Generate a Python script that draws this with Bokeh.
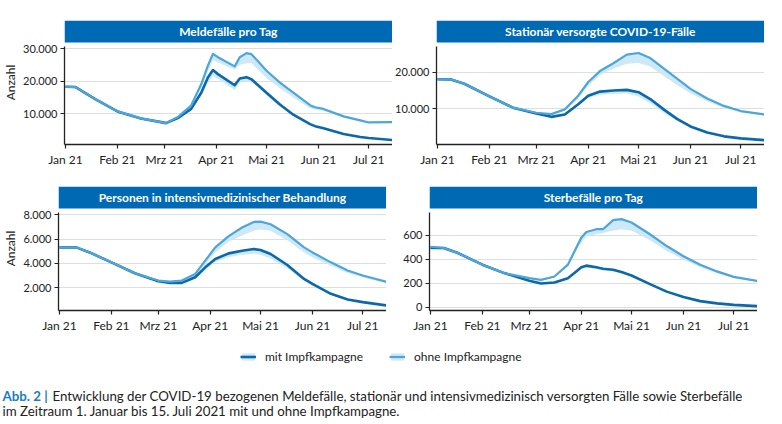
import pandas as pd
from bokeh.plotting import figure
from bokeh.models import Range1d, FixedTicker, BoxAnnotation, Label, Legend, LegendItem
from bokeh.layouts import column, row
from bokeh.embed import file_html
from bokeh.resources import INLINE

# ---------------- data ----------------
START = "2021-01-01"
END = "2021-07-15"
month_ticks = ["2021-01-01", "2021-02-01", "2021-03-01", "2021-04-01", "2021-05-01", "2021-06-01", "2021-07-01"]
month_labels = ["Jan 21", "Feb 21", "Mrz 21", "Apr 21", "Mai 21", "Jun 21", "Jul 21"]

titles = ["Meldefälle pro Tag", "Stationär versorgte COVID-19-Fälle",
          "Personen in intensivmedizinischer Behandlung", "Sterbefälle pro Tag"]
series_names = ["mit Impfkampagne", "ohne Impfkampagne"]

# Panel 1: Meldefälle pro Tag
dates1 = ["2021-01-01", "2021-01-07", "2021-01-19", "2021-02-01", "2021-02-15", "2021-02-27", "2021-03-02",
          "2021-03-09", "2021-03-17", "2021-03-23", "2021-03-27", "2021-03-30", "2021-04-02", "2021-04-12",
          "2021-04-15", "2021-04-19", "2021-04-22", "2021-05-01", "2021-05-09", "2021-05-17", "2021-05-27",
          "2021-05-30", "2021-06-04", "2021-06-16", "2021-06-26", "2021-07-01", "2021-07-15"]
ohne1 = [18300, 18200, 14400, 10700, 8540, 7400, 7080, 8960, 12500, 19060, 24800, 28440, 27400, 24580,
         27400, 28650, 28330, 23230, 19580, 16460, 12600, 11980, 11460, 9170, 7920, 7290, 7400]
ohne1_lo = [18300, 18200, 14400, 10700, 8540, 7400, 7080, 8900, 12200, 18000, 23000, 26500, 25800, 23600,
            25000, 25500, 25500, 21000, 17800, 15000, 11700, 11300, 10900, 8800, 7600, 7100, 7200]
mit1 = [18300, 18200, 14400, 10700, 8540, 7400, 7080, 8650, 11460, 16460, 21150, 23440, 22190, 18750,
        20830, 21250, 20630, 16460, 12810, 9690, 6770, 6150, 5520, 3750, 2810, 2500, 1880]
mit1_lo = [18300, 18200, 14400, 10700, 8540, 7400, 7080, 8600, 11200, 15500, 19500, 21500, 20800, 17300,
           19600, 20100, 19800, 15700, 12200, 9200, 6500, 5900, 5300, 3600, 2700, 2400, 1800]
yticks1 = [10000, 20000, 30000]
ylabels1 = ["10.000", "20.000", "30.000"]

# Panel 2: Stationär versorgte COVID-19-Fälle
dates2 = ["2021-01-01", "2021-01-09", "2021-01-17", "2021-02-01", "2021-02-15", "2021-03-01", "2021-03-10",
          "2021-03-18", "2021-03-26", "2021-04-01", "2021-04-08", "2021-04-16", "2021-04-24", "2021-05-01",
          "2021-05-08", "2021-05-16", "2021-05-24", "2021-06-01", "2021-06-11", "2021-06-21", "2021-07-01",
          "2021-07-15"]
ohne2 = [18040, 18000, 16820, 13360, 10280, 8880, 8500, 9810, 13550, 17290, 20280, 22430, 24770, 25230,
         23830, 21030, 18220, 15420, 12800, 10750, 9350, 8410]
ohne2_lo = [18040, 18000, 16820, 13360, 10280, 8880, 8400, 9500, 12800, 16300, 19200, 21000, 22300, 22500,
            21500, 19000, 16500, 14200, 12000, 10200, 9000, 8100]
mit2 = [18040, 18000, 16820, 13360, 10280, 8690, 7760, 8410, 11210, 13550, 14670, 14950, 15140, 14490,
        12620, 9810, 7200, 5140, 3460, 2430, 1870, 1400]
mit2_lo = [18040, 18000, 16820, 13360, 10280, 8690, 7760, 8350, 10900, 13000, 13800, 14000, 14200, 13300,
           11500, 8900, 6600, 4800, 3300, 2350, 1800, 1350]
yticks2 = [10000, 20000]
ylabels2 = ["10.000", "20.000"]

# Panel 3: Personen in intensivmedizinischer Behandlung
dates3 = ["2021-01-01", "2021-01-11", "2021-01-19", "2021-02-01", "2021-02-15", "2021-03-01", "2021-03-08",
          "2021-03-15", "2021-03-23", "2021-03-29", "2021-04-04", "2021-04-12", "2021-04-20", "2021-04-27",
          "2021-05-01", "2021-05-07", "2021-05-17", "2021-05-27", "2021-06-01", "2021-06-12", "2021-06-22",
          "2021-07-01", "2021-07-15"]
ohne3 = [5320, 5320, 4900, 4080, 3180, 2575, 2490, 2575, 3120, 4220, 5320, 6250, 6960, 7420, 7450, 7230,
         6410, 5320, 4900, 4080, 3400, 2990, 2490]
ohne3_lo = [5320, 5320, 4900, 4080, 3180, 2575, 2450, 2500, 2950, 3900, 4900, 5800, 6300, 6700, 6800, 6700,
            5900, 4900, 4500, 3800, 3200, 2850, 2350]
mit3 = [5320, 5320, 4900, 4080, 3180, 2520, 2380, 2380, 2850, 3670, 4360, 4820, 5040, 5180, 5100, 4770,
        3860, 2710, 2300, 1480, 1010, 790, 520]
mit3_lo = [5320, 5320, 4900, 4080, 3180, 2520, 2380, 2350, 2750, 3450, 4100, 4500, 4700, 4800, 4700, 4400,
           3600, 2550, 2150, 1400, 950, 750, 500]
yticks3 = [2000, 4000, 6000, 8000]
ylabels3 = ["2.000", "4.000", "6.000", "8.000"]

# Panel 4: Sterbefälle pro Tag
dates4 = ["2021-01-01", "2021-01-09", "2021-01-17", "2021-02-01", "2021-02-14", "2021-03-01", "2021-03-08",
          "2021-03-16", "2021-03-24", "2021-03-29", "2021-04-01", "2021-04-04", "2021-04-10", "2021-04-14",
          "2021-04-20", "2021-04-25", "2021-05-01", "2021-05-12", "2021-05-22", "2021-06-01", "2021-06-11",
          "2021-06-21", "2021-07-01", "2021-07-15"]
ohne4 = [505, 495, 455, 356, 286, 244, 230, 258, 356, 497, 580, 628, 651, 651, 727, 735, 707, 609, 511, 426,
         356, 300, 255, 222]
ohne4_lo = [480, 480, 445, 350, 280, 240, 225, 250, 340, 470, 540, 590, 610, 620, 640, 650, 640, 560, 470,
            400, 335, 285, 245, 212]
mit4 = [497, 495, 455, 356, 286, 222, 199, 208, 244, 300, 334, 348, 334, 322, 314, 295, 266, 194, 132, 87,
        53, 34, 22, 11]
mit4_lo = [480, 480, 445, 350, 280, 222, 199, 205, 238, 290, 320, 330, 322, 310, 300, 285, 258, 188, 128, 85,
           52, 33, 21, 10]
yticks4 = [0, 200, 400, 600]
ylabels4 = ["0", "200", "400", "600"]

caption_bold = "Abb. 2 |"
caption_line1 = "Entwicklung der COVID-19 bezogenen Meldefälle, stationär und intensivmedizinisch versorgten Fälle sowie Sterbefälle"
caption_line2 = "im Zeitraum 1. Januar bis 15. Juli 2021 mit und ohne Impfkampagne."

# ---------------- style ----------------
FONT = "Lato"
C_MIT = "#0a68ab"
C_OHNE = "#4ea6d8"
C_BAND = "#c8e5f5"
C_BAR = "#0069b4"
C_AXIS = "#222222"
C_GRID = "#dedede"

BAR_PX, GAP_PX, DATA_PX = 22, 4, 98
FRAME_W = 328


def to_days(ds):
    return list((pd.to_datetime(ds) - pd.Timestamp(START)).days)


month_days = to_days(month_ticks)
end_day = to_days([END])[0]


def panel(title, dates, mit, mit_lo, ohne, ohne_lo, yticks, ylabels, ylo, ytop, left_border, top_border,
          ylabel=None):
    upp = (ytop - ylo) / DATA_PX
    bar_bottom = ytop + GAP_PX * upp
    yend = bar_bottom + BAR_PX * upp
    p = figure(frame_width=FRAME_W, frame_height=BAR_PX + GAP_PX + DATA_PX,
               x_range=Range1d(-0.6, end_day + 0.2), y_range=Range1d(ylo, yend),
               toolbar_location=None, output_backend="svg",
               min_border_left=left_border, min_border_right=0, min_border_top=top_border,
               min_border_bottom=29)
    p.outline_line_color = None
    p.xgrid.visible = False
    p.ygrid.ticker = FixedTicker(ticks=yticks)
    p.ygrid.grid_line_color = C_GRID
    p.ygrid.grid_line_width = 1

    x = to_days(dates)
    p.varea(x=x, y1=mit_lo, y2=mit, fill_color=C_BAND, fill_alpha=0.9)
    p.varea(x=x, y1=ohne_lo, y2=ohne, fill_color=C_BAND, fill_alpha=0.9)
    p.line(x=x, y=mit, line_color=C_MIT, line_width=2.6, line_join="round")
    p.line(x=x, y=ohne, line_color=C_OHNE, line_width=2.2, line_join="round")

    p.add_layout(BoxAnnotation(bottom=bar_bottom, top=yend, fill_color=C_BAR, fill_alpha=1,
                               line_color=None))
    p.add_layout(Label(x=(end_day - 0.4) / 2, y=(bar_bottom + yend) / 2, text=title,
                       text_align="center", text_baseline="middle", text_color="white",
                       text_font=FONT, text_font_style="bold", text_font_size="12px"))

    p.xaxis.ticker = FixedTicker(ticks=month_days, minor_ticks=[])
    p.xaxis.major_label_overrides = {d: l for d, l in zip(month_days, month_labels)}
    p.yaxis.ticker = FixedTicker(ticks=yticks, minor_ticks=[])
    p.yaxis.major_label_overrides = {t: l for t, l in zip(yticks, ylabels)}
    p.yaxis.bounds = (ylo, ytop)
    for ax in p.axis:
        ax.axis_line_color = C_AXIS
        ax.axis_line_width = 1.3
        ax.major_tick_line_color = C_AXIS
        ax.major_tick_line_width = 1.2
        ax.major_tick_out = 4
        ax.major_tick_in = 0
        ax.major_label_text_font = FONT
        ax.major_label_text_font_size = "12px"
        ax.major_label_text_color = C_AXIS
        ax.major_label_standoff = 3
    p.yaxis.major_label_text_font_size = "11px"
    if ylabel:
        p.yaxis.axis_label = ylabel
        p.yaxis.axis_label_text_font = FONT
        p.yaxis.axis_label_text_font_size = "12px"
        p.yaxis.axis_label_text_font_style = "normal"
        p.yaxis.axis_label_text_color = C_AXIS
        p.yaxis.axis_label_standoff = 2
    return p


f1 = panel(titles[0], dates1, mit1, mit1_lo, ohne1, ohne1_lo, yticks1, ylabels1, 500, 30700, 55, 20, "Anzahl")
f2 = panel(titles[1], dates2, mit2, mit2_lo, ohne2, ohne2_lo, yticks2, ylabels2, 200, 27000, 43, 20)
f3 = panel(titles[2], dates3, mit3, mit3_lo, ohne3, ohne3_lo, yticks3, ylabels3, 100, 8200, 55, 13, "Anzahl")
f4 = panel(titles[3], dates4, mit4, mit4_lo, ohne4, ohne4_lo, yticks4, ylabels4, -25, 790, 43, 13)

# ---------------- legend + caption ----------------
fb = figure(width=766, height=84, x_range=Range1d(0, 766), y_range=Range1d(0, 84),
            x_axis_location=None, y_axis_location=None, toolbar_location=None,
            output_backend="svg", min_border=0)
fb.outline_line_color = None
fb.grid.visible = False
r_band_mit = fb.varea(x=[-100, -99], y1=[0, 0], y2=[1, 1], fill_color=C_BAND, fill_alpha=0.9)
r_line_mit = fb.line(x=[-100, -99], y=[0, 0], line_color=C_MIT, line_width=2.6)
r_band_ohne = fb.varea(x=[-100, -99], y1=[0, 0], y2=[1, 1], fill_color=C_BAND, fill_alpha=0.9)
r_line_ohne = fb.line(x=[-100, -99], y=[0, 0], line_color=C_OHNE, line_width=2.2)
legend = Legend(items=[LegendItem(label=series_names[0], renderers=[r_band_mit, r_line_mit]),
                       LegendItem(label=series_names[1], renderers=[r_band_ohne, r_line_ohne])],
                location=(240, 59), orientation="horizontal", padding=0, margin=0,
                border_line_alpha=0, background_fill_alpha=0, label_text_font=FONT,
                label_text_font_size="12px", label_text_color=C_AXIS, glyph_width=16, glyph_height=9,
                label_height=14, label_standoff=9, spacing=26)
fb.add_layout(legend)

fb.add_layout(Label(x=2, y=28, text=caption_bold, text_font=FONT, text_font_style="bold",
                    text_font_size="13.3px", text_color="#1c7cc0", text_baseline="middle"))
fb.add_layout(Label(x=52, y=28, text=caption_line1, text_font=FONT, text_font_size="13.3px",
                    text_color="#222222", text_baseline="middle"))
fb.add_layout(Label(x=2, y=13, text=caption_line2, text_font=FONT, text_font_size="13.3px",
                    text_color="#222222", text_baseline="middle"))

layout = column(row(f1, f2), row(f3, f4), fb)
open("out.html", "w").write(file_html(layout, INLINE))
